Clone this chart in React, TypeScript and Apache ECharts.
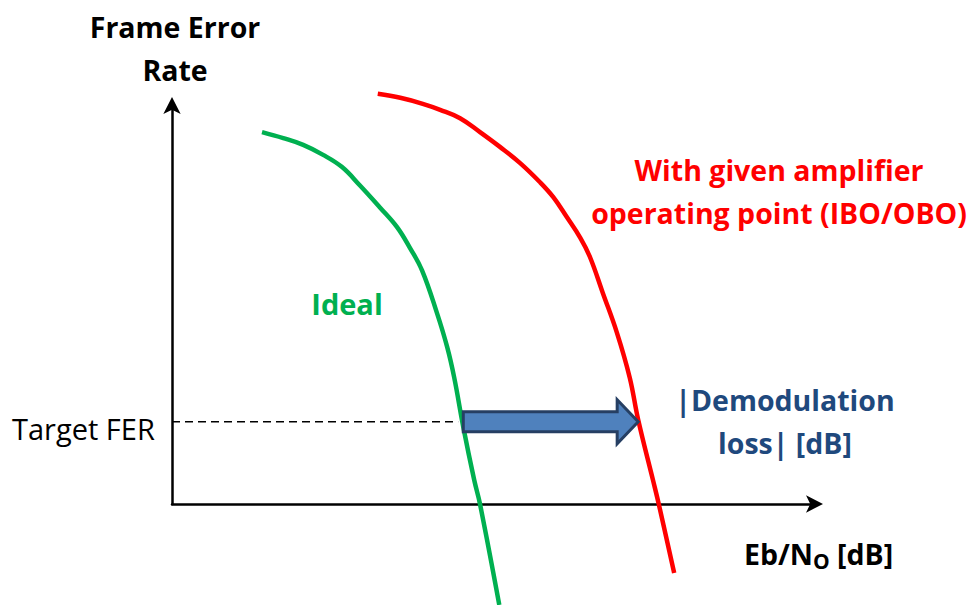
import React, { useEffect, useRef } from "react";
import * as echarts from "echarts";

// Schematic data (arbitrary units: x = Eb/N0, y = "FER" height above axis origin)
const idealX = [1.40, 1.73, 2.04, 2.35, 2.64, 2.92, 3.23, 3.50, 3.70, 3.89, 4.12, 4.28, 4.39, 4.53, 4.70, 4.79, 5.09];
const idealY = [9.32, 9.17, 9.00, 8.75, 8.45, 7.99, 7.44, 6.94, 6.42, 5.85, 4.79, 3.93, 3.16, 1.93, 0.60, 0, -2.53];
const ampX = [3.20, 3.55, 3.90, 4.17, 4.48, 4.79, 5.10, 5.41, 5.72, 5.93, 6.14, 6.35, 6.50, 6.70, 6.92, 7.12, 7.25, 7.48, 7.57, 7.81];
const ampY = [10.28, 10.18, 10.03, 9.88, 9.67, 9.32, 8.95, 8.55, 8.07, 7.69, 7.19, 6.67, 6.19, 5.29, 4.29, 3.16, 2.11, 0.60, 0, -1.73];
const targetFER = 2.06;
const dashEndX = 4.45;
const lossStartX = 4.53;
const lossEndX = 7.25;

const FONT = "'Open Sans', Lato, sans-serif";

export default function App() {
  const ref = useRef<HTMLDivElement>(null);
  useEffect(() => {
    if (!ref.current) return;
    const chart = echarts.init(ref.current, undefined, { renderer: "svg" });
    const zip = (xs: number[], ys: number[]) => xs.map((x, i) => [x, ys[i]]);
    chart.setOption({
      animation: false,
      grid: { left: 172, right: 158, top: 105, bottom: 101, containLabel: false },
      xAxis: {
        type: "value", min: 0, max: 10,
        axisLine: { onZero: false, lineStyle: { color: "#000", width: 2.5 }, symbol: ["none", "arrow"], symbolSize: [13, 17], symbolOffset: [0, 8] },
        axisTick: { show: false }, axisLabel: { show: false }, splitLine: { show: false },
      },
      yAxis: {
        type: "value", min: 0, max: 10,
        axisLine: { show: true, onZero: false, lineStyle: { color: "#000", width: 2.5 }, symbol: ["none", "arrow"], symbolSize: [13, 17], symbolOffset: [0, 8] },
        axisTick: { show: false }, axisLabel: { show: false }, splitLine: { show: false },
      },
      series: [
        {
          type: "line", name: "Target", data: [[0, targetFER], [dashEndX, targetFER]],
          showSymbol: false, clip: false,
          lineStyle: { color: "#000", width: 1.5, type: [8, 5] },
        },
        {
          type: "line", name: "Ideal", data: zip(idealX, idealY), smooth: 0.4,
          showSymbol: false, clip: false, lineStyle: { color: "#00B050", width: 4.5 },
        },
        {
          type: "line", name: "Amp", data: zip(ampX, ampY), smooth: 0.4,
          showSymbol: false, clip: false, lineStyle: { color: "#FF0000", width: 4.5 },
        },
      ],
    });

    const p0 = chart.convertToPixel({ gridIndex: 0 }, [lossStartX, targetFER]) as number[];
    const p1 = chart.convertToPixel({ gridIndex: 0 }, [lossEndX, targetFER]) as number[];
    const cy = p0[1];
    const headLen = 21, bodyH = 10, headH = 22;
    const hb = p1[0] - headLen;

    chart.setOption({
      graphic: [
        {
          type: "polygon",
          shape: {
            points: [
              [p0[0], cy - bodyH], [hb, cy - bodyH], [hb, cy - headH], [p1[0], cy],
              [hb, cy + headH], [hb, cy + bodyH], [p0[0], cy + bodyH],
            ],
          },
          style: { fill: "#4F81BD", stroke: "#263F63", lineWidth: 3 },
          z: 10,
        },
        {
          type: "text", x: 175, y: 48, z: 20,
          style: { text: "Frame Error\nRate", font: `bold 28.5px ${FONT}`, fill: "#000", align: "center", verticalAlign: "middle", lineHeight: 43 },
        },
        {
          type: "text", x: 347, y: 303, z: 20,
          style: { text: "Ideal", font: `bold 29px ${FONT}`, fill: "#00B050", align: "center", verticalAlign: "middle" },
        },
        {
          type: "text", x: 779, y: 191, z: 20,
          style: { text: "With given amplifier\noperating point (IBO/OBO)", font: `bold 28.5px ${FONT}`, fill: "#FF0000", align: "center", verticalAlign: "middle", lineHeight: 43 },
        },
        {
          type: "text", x: 785, y: 421, z: 20,
          style: { text: "|Demodulation\nloss| [dB]", font: `bold 28.5px ${FONT}`, fill: "#1F497D", align: "center", verticalAlign: "middle", lineHeight: 43 },
        },
        {
          type: "text", x: 12, y: 428, z: 20,
          style: { text: "Target FER", font: `29px ${FONT}`, fill: "#000", align: "left", verticalAlign: "middle" },
        },
        {
          type: "text", x: 744, y: 554, z: 20,
          style: {
            text: "{b|Eb/N}{s|O}{b| [dB]}",
            align: "left", verticalAlign: "middle",
            rich: {
              b: { font: `bold 28.5px ${FONT}`, fill: "#000", verticalAlign: "middle", lineHeight: 34 },
              s: { font: `bold 21px ${FONT}`, fill: "#000", verticalAlign: "bottom", lineHeight: 34, padding: [8, 0, 0, 0] },
            },
          },
        },
      ],
    });
    return () => chart.dispose();
  }, []);
  return <div ref={ref} style={{ position: "fixed", left: 0, top: 0, width: 973, height: 605, background: "#fff" }} />;
}
